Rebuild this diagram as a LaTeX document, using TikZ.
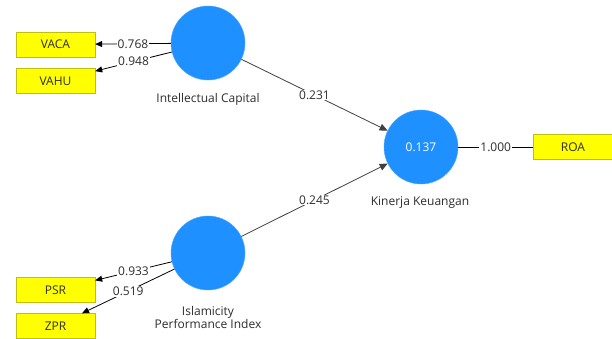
\documentclass[tikz,border=0pt]{standalone}
\usepackage{fontspec}
\setmainfont{Open Sans}
\usetikzlibrary{arrows.meta}
\definecolor{lvblue}{RGB}{30,144,255}
\definecolor{indyel}{RGB}{255,255,0}
\definecolor{indbrd}{RGB}{190,190,20}
\definecolor{txt}{RGB}{45,45,45}
\begin{document}
\begin{tikzpicture}[x=1pt,y=-1pt,
  every node/.style={font=\fontsize{12}{14}\selectfont, text=txt},
  lv/.style={circle, fill=lvblue, draw=lvblue!80!white, minimum size=74pt, inner sep=0pt},
  ind/.style={rectangle, fill=indyel, draw=indbrd, minimum width=79pt, minimum height=25pt, inner sep=0pt},
  lbl/.style={fill=white, inner sep=1pt},
  outarr/.style={draw=black, line width=0.8pt, -{Triangle[length=7pt,width=6pt]}},
  patharr/.style={draw=black!75, line width=0.8pt, -{Triangle[length=8pt,width=7pt]}},
  plainline/.style={draw=black, line width=0.8pt},
  captext/.style={align=center, inner sep=0pt}]
\useasboundingbox (0,0) rectangle (612,338);
\fill[white] (0,0) rectangle (612,338);
\node[lv] (IC) at (208,43) {};
\node[lv] (IPI) at (208,253) {};
\node[lv] (KK) at (421,147) {};
\node[text=white] (r2) at (KK) {0.137};
\node[captext] (capIC) at (208,99) {Intellectual Capital};
\node[captext] (capIPI) at (208,317) {Islamicity\\[-1pt]Performance Index};
\node[captext] (capKK) at (420,203) {Kinerja Keuangan};
\node[ind] (VACA) at (55.5,44.5) {VACA};
\node[ind] (VAHU) at (55.5,81) {VAHU};
\node[ind] (PSR) at (55.5,290) {PSR};
\node[ind] (ZPR) at (55.5,326) {ZPR};
\node[ind] (ROA) at (573,147) {ROA};
\draw[outarr] (IC) -- node[lbl]{0.768} (VACA);
\draw[outarr] (IC) -- node[lbl]{0.948} (VAHU);
\draw[outarr] (IPI) -- node[lbl]{0.933} (PSR);
\draw[outarr] (IPI) -- node[lbl]{0.519} (ZPR);
\draw[patharr] (IC) -- node[lbl]{0.231} (KK);
\draw[patharr] (IPI) -- node[lbl]{0.245} (KK);
\draw[plainline] (KK) -- node[lbl]{1.000} (ROA);
\end{tikzpicture}
\end{document}
